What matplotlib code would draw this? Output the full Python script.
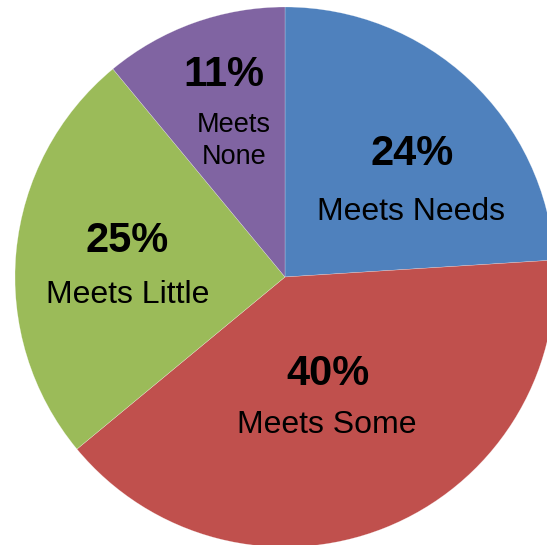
import matplotlib
matplotlib.use("Agg")
import matplotlib.pyplot as plt

# data
categories = ["Meets Needs", "Meets Some", "Meets Little", "Meets None"]
shares = [24, 40, 25, 11]
pct_labels = ["24%", "40%", "25%", "11%"]
name_lines = [["Meets Needs"], ["Meets Some"], ["Meets Little"], ["Meets", "None"]]

colors = ["#4F81BD", "#C0504D", "#9BBB59", "#8064A2"]

W, H = 547, 545
fig = plt.figure(figsize=(W / 100, H / 100), dpi=100)
ax = fig.add_axes([0, 0, 1, 1])

# pie in pixel-like coordinates (y up), centre a bit right of middle
cx, cy, R = 285, H - 277, 270
ax.pie(shares, colors=colors, startangle=90, counterclock=False,
       center=(cx, cy), radius=R,
       wedgeprops=dict(edgecolor=(1, 1, 1, 0.5), linewidth=0.3))

ax.set_xlim(0, W)
ax.set_ylim(0, H)
ax.set_aspect("auto")
ax.axis("off")

plt.rcParams["font.family"] = ["Liberation Sans", "DejaVu Sans"]

# label anchors: x centre and baselines, px from top
pct_pos = [(412, 165), (328, 385), (127, 252), (224, 86)]
name_pos = [(411, [220]), (327, [433]), (128, [303]), (234, [132, 164])]
name_size = [23, 23, 23, 19.5]

for i in range(len(categories)):
    px, py = pct_pos[i]
    ax.text(px, H - py, pct_labels[i], ha="center", va="baseline",
            fontsize=30, fontweight="bold", color="black")
    nx, ys = name_pos[i]
    for line, ny in zip(name_lines[i], ys):
        ax.text(nx, H - ny, line, ha="center", va="baseline",
                fontsize=name_size[i], color="black")

fig.savefig("out.png", dpi=100)
